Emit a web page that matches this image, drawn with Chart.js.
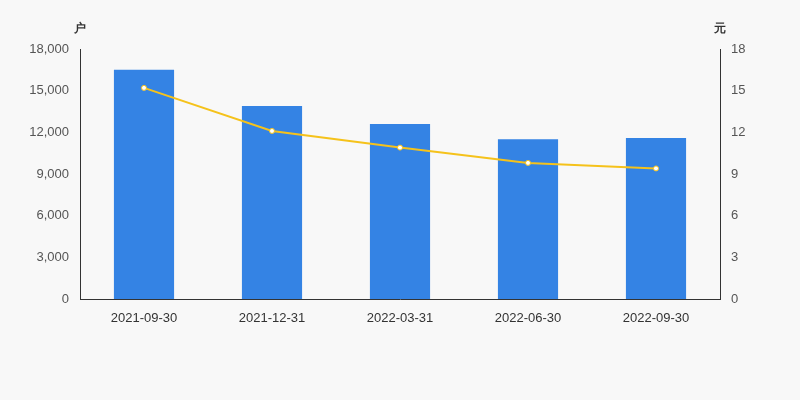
<!DOCTYPE html>
<html><head><meta charset="utf-8">
<script src="https://cdn.jsdelivr.net/npm/chart.js@4/dist/chart.umd.min.js"></script>
<style>body{margin:0;background:#f8f8f8}#w{width:800px;height:400px}</style>
</head><body><div id="w"><canvas id="c"></canvas></div>
<script>
const categories=["2021-09-30","2021-12-31","2022-03-31","2022-06-30","2022-09-30"];
const households=[16500,13900,12600,11500,11600];
const price=[15.2,12.1,10.9,9.8,9.4];
const leftTicks=[0,3000,6000,9000,12000,15000,18000];
const rightTicks=[0,3,6,9,12,15,18];
const F='"Liberation Sans", Arial, sans-serif';
const titles={id:'t',afterDraw(c){const x=c.ctx;x.save();x.font='bold 12px '+F;x.fillStyle='#333';x.textAlign='center';x.fillText('户',80,32);x.fillText('元',720,32);x.restore();}};
new Chart(document.getElementById('c'),{
data:{labels:categories,datasets:[
{type:'line',data:price,yAxisID:'y1',borderColor:'#f5c21b',backgroundColor:'#fff',borderWidth:2,pointRadius:2.5,pointBorderWidth:1,pointBorderColor:'#f5c21b',pointBackgroundColor:'#fff',tension:0,order:0},
{type:'bar',data:households,yAxisID:'y',backgroundColor:'#3483e4',categoryPercentage:0.47,barPercentage:1,order:1}]},
options:{responsive:true,maintainAspectRatio:false,animation:false,
layout:{padding:{top:49,bottom:0,left:0,right:0}},
plugins:{legend:{display:false},tooltip:{enabled:false}},
scales:{
x:{grid:{display:false,drawTicks:true},border:{color:'#333'},ticks:{color:'#333',font:{size:13,family:F},padding:4},afterFit(s){s.height=101;}},
y:{position:'left',min:0,max:18000,afterBuildTicks(s){s.ticks=leftTicks.map(v=>({value:v}));},grid:{display:false},border:{color:'#333'},ticks:{color:'#555',font:{size:13,family:F},callback:v=>v.toLocaleString('en-US')},afterFit(s){s.width=80;}},
y1:{position:'right',min:0,max:18,afterBuildTicks(s){s.ticks=rightTicks.map(v=>({value:v}));},grid:{display:false},border:{color:'#333'},ticks:{color:'#555',font:{size:13,family:F}},afterFit(s){s.width=80;}}
}},plugins:[titles]});
</script></body></html>
